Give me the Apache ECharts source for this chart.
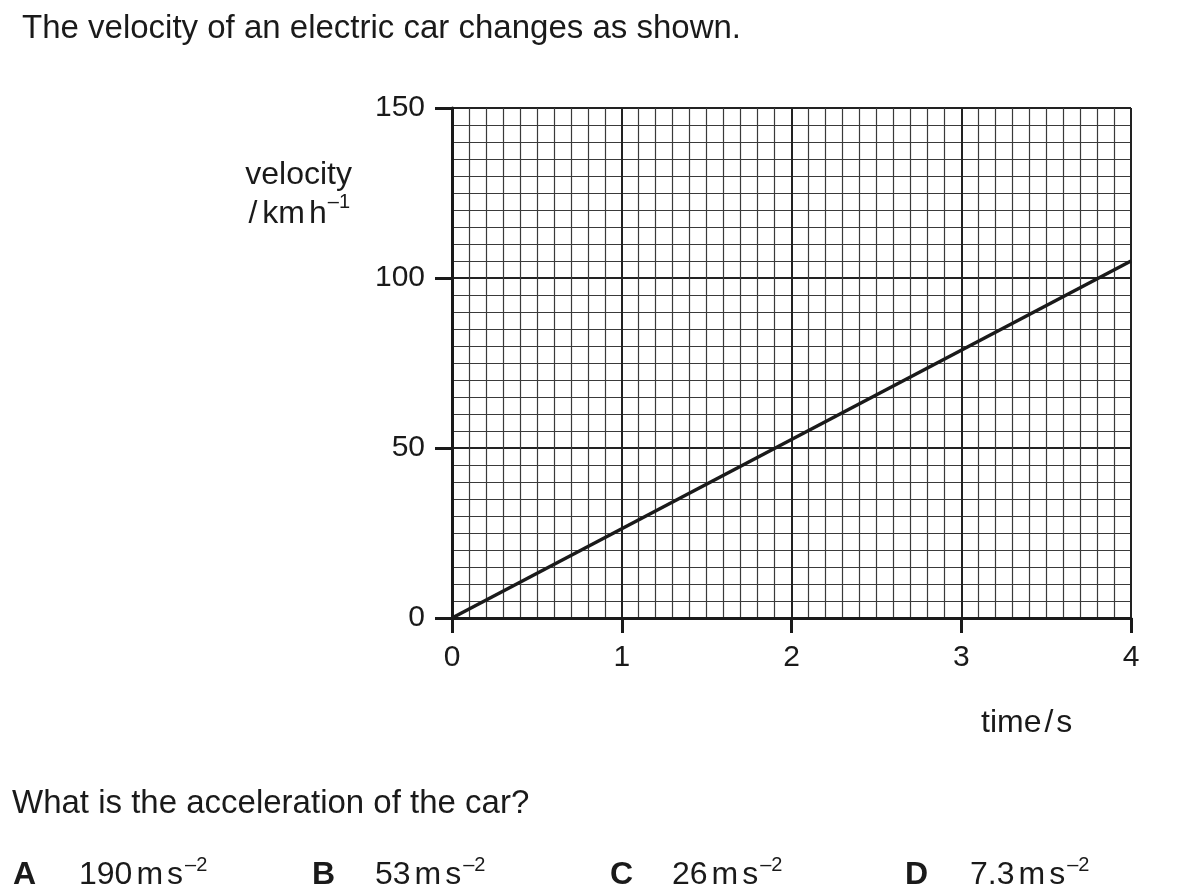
<!DOCTYPE html>
<html><head><meta charset="utf-8">
<script src="https://cdn.jsdelivr.net/npm/echarts@6/dist/echarts.min.js"></script>
<style>html,body{margin:0;padding:0;background:#fff}#c{width:1184px;height:895px}</style>
</head><body><div id="c"></div>
<script>
const time = [0, 4];
const velocity = [0, 105];
const xTicks = [0, 1, 2, 3, 4];
const yTicks = [0, 50, 100, 150];
const titleText = 'The velocity of an electric car changes as shown.';
const questionText = 'What is the acceleration of the car?';
const optionLetters = ['A', 'B', 'C', 'D'];
const optionValues = ['190', '53', '26', '7.3'];

const FONT = '"Liberation Sans", Arial, sans-serif';
const INK = '#1a1a1a';
const chart = echarts.init(document.getElementById('c'), null, {renderer: 'canvas'});

const mctx = document.createElement('canvas').getContext('2d');
function fontStr(size, bold) { return (bold ? 'bold ' : '') + size + 'px ' + FONT; }
function measure(t, size, bold) { mctx.font = fontStr(size, bold); return mctx.measureText(t).width; }

// lay out a run of text pieces left to right; each piece: {t, size, bold, dy, gap}
function run(x, cy, parts, align) {
  const els = [];
  let total = 0;
  parts.forEach(p => { total += (p.gap || 0) + measure(p.t, p.size, p.bold); });
  let cx = align === 'right' ? x - total : x;
  parts.forEach(p => {
    cx += (p.gap || 0);
    els.push({type: 'text', x: cx, y: cy + (p.dy || 0), style: {
      text: p.t, font: fontStr(p.size, p.bold), fill: INK, align: 'left', verticalAlign: 'middle'}});
    cx += measure(p.t, p.size, p.bold);
  });
  return els;
}

let graphics = [];
graphics = graphics.concat(run(22, 29, [{t: titleText, size: 33}]));
graphics = graphics.concat(run(12, 804, [{t: questionText, size: 33}]));
graphics = graphics.concat(run(352, 175, [{t: 'velocity', size: 32}], 'right'));
graphics = graphics.concat(run(350, 214, [
  {t: '/', size: 32}, {t: 'km', size: 32, gap: 5}, {t: 'h', size: 32, gap: 4},
  {t: '–1', size: 20, gap: 1, dy: -12}
], 'right'));
graphics = graphics.concat(run(981, 723, [
  {t: 'time', size: 32}, {t: '/', size: 32, gap: 3}, {t: 's', size: 32, gap: 3}
]));

const optX = [13, 312, 610, 905];
const valX = [79, 375, 672, 970];
for (let i = 0; i < 4; i++) {
  graphics = graphics.concat(run(optX[i], 875, [{t: optionLetters[i], size: 32, bold: true}]));
  graphics = graphics.concat(run(valX[i], 875, [
    {t: optionValues[i], size: 32}, {t: 'm', size: 32, gap: 4}, {t: 's', size: 32, gap: 4},
    {t: '–2', size: 20, gap: 2, dy: -10}
  ]));
}

chart.setOption({
  animation: false,
  backgroundColor: '#fff',
  grid: {left: 452, right: 53, top: 108, bottom: 277, containLabel: false},
  xAxis: {
    type: 'value', min: 0, max: 4, interval: 1,
    axisLine: {show: true, onZero: false, lineStyle: {color: INK, width: 3}},
    axisTick: {show: true, inside: false, length: 15, lineStyle: {color: INK, width: 3}},
    axisLabel: {fontSize: 30, fontFamily: FONT, color: INK, margin: 25,
      formatter: v => xTicks.includes(v) ? String(v) : ''},
    splitLine: {show: true, lineStyle: {color: '#222', width: 2}},
    minorTick: {show: false, splitNumber: 10},
    minorSplitLine: {show: true, lineStyle: {color: '#3a3a3a', width: 1.2}}
  },
  yAxis: {
    type: 'value', min: 0, max: 150, interval: 50,
    axisLine: {show: true, onZero: false, lineStyle: {color: INK, width: 3}},
    axisTick: {show: true, inside: false, length: 17, lineStyle: {color: INK, width: 3}},
    axisLabel: {fontSize: 30, fontFamily: FONT, color: INK, margin: 27, padding: [5, 0, 0, 0],
      formatter: v => yTicks.includes(v) ? String(v) : ''},
    splitLine: {show: true, lineStyle: {color: '#222', width: 2}},
    minorTick: {show: false, splitNumber: 10},
    minorSplitLine: {show: true, lineStyle: {color: '#3a3a3a', width: 1.2}}
  },
  series: [{
    type: 'line', data: time.map((t, i) => [t, velocity[i]]),
    showSymbol: false, symbol: 'none',
    lineStyle: {color: INK, width: 3.5}, z: 5
  }],
  graphic: graphics
});
</script></body></html>
